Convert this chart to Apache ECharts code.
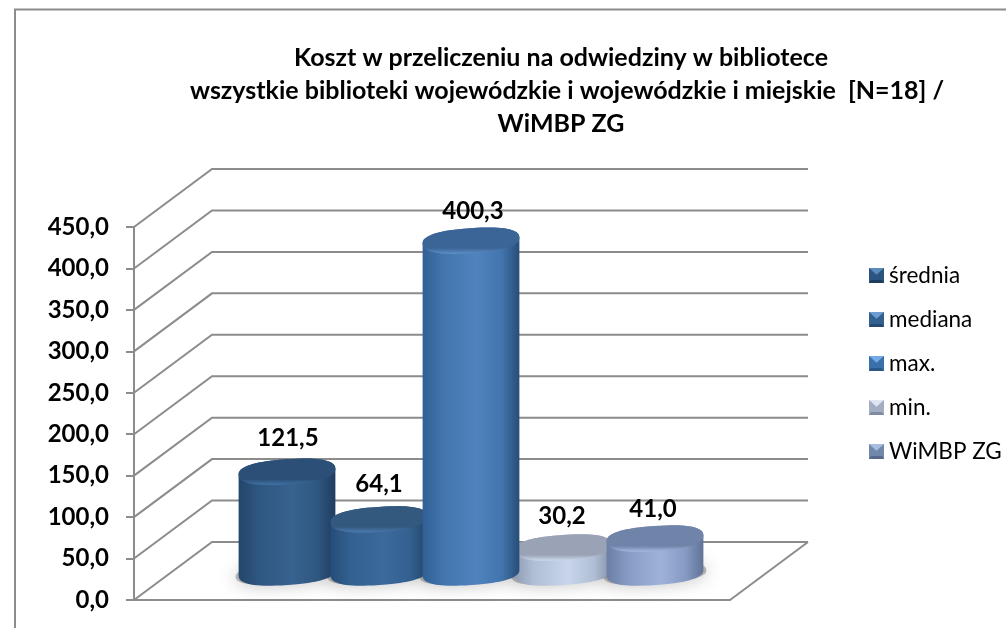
<!DOCTYPE html>
<html><head><meta charset="utf-8">
<style>html,body{margin:0;padding:0;background:#fff}#c{width:1006px;height:628px}</style>
<script src="https://cdn.jsdelivr.net/npm/echarts@6/dist/echarts.min.js"></script>
</head><body><div id="c"></div>
<script>
const seriesNames = ['średnia', 'mediana', 'max.', 'min.', 'WiMBP ZG'];
const seriesValues = [121.5, 64.1, 400.3, 30.2, 41.0];
const categories = [''];
const axisTicks = [0, 50, 100, 150, 200, 250, 300, 350, 400, 450];

const titleLines = ['Koszt w przeliczeniu na odwiedziny w bibliotece',
  '  wszystkie biblioteki wojewódzkie i wojewódzkie i miejskie  [N=18] /',
  'WiMBP ZG'];

// Styles: [edge-left, mid, centre, edge-right, top face, top rim]
const palette = [
  ['#234669', '#2f5680', '#38628f', '#1f3d60', '#2c4f78', '#4272a6'],
  ['#274d79', '#32608f', '#3d6a9c', '#234569', '#34597f', '#4c7cb2'],
  ['#2f5f94', '#4274ad', '#5082bd', '#284d78', '#3b6597', '#5f90c8'],
  ['#8e9cb4', '#b0bed6', '#c8d5ea', '#8390a8', '#9aa3b5', '#cbd8ec'],
  ['#6a7ea2', '#8599c2', '#9fb3da', '#5f7296', '#6f84a8', '#a6b9df']
];
const legendFace = ['#2b5480', '#33618f', '#3a70aa', '#a3aec2', '#7188ad'];
const legendLight = ['#5b8bbb', '#6b9dd0', '#74aae6', '#dfe6f2', '#a8bde0'];
const legendDark = ['#1e3c5e', '#244a73', '#2a5688', '#7f8ba0', '#56698c'];
const drawOrder = [2, 3, 6, 4, 5];
const labelLift = [34, 35, 29, 31, 29];
const labelShift = [1, 0, 2, -1, -2];

const DEPTH_X = 78, DEPTH_Y = -58;      // 3D depth of the floor
const MID = 0.5;                        // cylinders stand half way back
const BAR_SHARE = 92 / 596;             // slot of a cylinder in the band
const RX_SHARE = 48.5 / 92;
const RY = 12.5, TILT = 4 * Math.PI / 180, ROUND = 0.82;
const FONT = 'Lato, Carlito, sans-serif';

function ellipsePt(cx, cy, rx, ry, t) {
  const ct = Math.cos(t), st = Math.sin(t);
  const x = rx * Math.sign(ct) * Math.pow(Math.abs(ct), ROUND);
  const y = ry * Math.sign(st) * Math.pow(Math.abs(st), ROUND);
  return [cx + x * Math.cos(TILT) + y * Math.sin(TILT), cy - x * Math.sin(TILT) + y * Math.cos(TILT)];
}
function ellipsePoly(cx, cy, rx, ry) {
  const p = [];
  for (let i = 0; i < 72; i++) p.push(ellipsePt(cx, cy, rx, ry, i / 72 * Math.PI * 2));
  return p;
}
function barCentre(api, idx) {
  const base0 = api.coord([0, 0]);
  const slot = api.size([1, 0])[0] * BAR_SHARE;
  return {
    cx: base0[0] + (idx - (seriesValues.length - 1) / 2) * slot + DEPTH_X * MID,
    by: base0[1] + DEPTH_Y * MID + 1.5,
    rx: slot * RX_SHARE, slot
  };
}

function cylinderRender(idx) {
  return function (params, api) {
    const v = api.value(1);
    const g = barCentre(api, idx);
    const ty = api.coord([0, v])[1] + DEPTH_Y * MID + 1.5;
    const c = palette[idx];
    const body = [];
    for (let i = 0; i <= 36; i++) body.push(ellipsePt(g.cx, g.by, g.rx, RY, i / 36 * Math.PI));
    for (let i = 0; i <= 36; i++) body.push(ellipsePt(g.cx, ty, g.rx, RY, Math.PI + i / 36 * Math.PI));
    const grad = new echarts.graphic.LinearGradient(0, 0, 1, 0, [
      { offset: 0, color: c[0] }, { offset: 0.2, color: c[1] }, { offset: 0.55, color: c[2] },
      { offset: 0.82, color: c[1] }, { offset: 1, color: c[3] }]);
    const topGrad = new echarts.graphic.LinearGradient(0, 0, 0, 1, [
      { offset: 0, color: c[4] }, { offset: 0.78, color: c[4] }, { offset: 1, color: c[5] }]);
    return {
      type: 'group',
      children: [
        { type: 'polygon', z2: 2, shape: { points: body }, style: { fill: grad } },
        { type: 'polygon', z2: 3, shape: { points: ellipsePoly(g.cx, ty, g.rx, RY) }, style: { fill: topGrad } },
        { type: 'text', z2: 4, style: {
            x: g.cx + labelShift[idx], y: ty - labelLift[idx], align: 'center', verticalAlign: 'middle',
            text: v.toFixed(1).replace('.', ','), fill: '#000', font: 'bold 24px ' + FONT } }
      ]
    };
  };
}

function shadowRender(params, api) {
  const g = barCentre(api, params.dataIndex);
  return { type: 'polygon', shape: { points: ellipsePoly(g.cx, g.by + 1, g.rx + 3, RY - 2) },
    style: { fill: 'rgba(90,90,90,0.4)', shadowBlur: 18, shadowColor: 'rgba(0,0,0,0.65)' } };
}

function wallRender(params, api) {
  const v = api.value(0);
  const a = api.coord([0, v]);
  const band = api.size([1, 0])[0];
  const startX = a[0] - band / 2;
  const bx = startX + DEPTH_X, by = a[1] + DEPTH_Y;
  const endX = startX + band + DEPTH_X;
  const st = { stroke: '#8c8c8c', lineWidth: 2, fill: null };
  const kids = [
    { type: 'polyline', shape: { points: [[startX, a[1]], [bx, by], [endX, by]] }, style: st }
  ];
  if (v === 0) {
    kids.push({ type: 'polyline', shape: { points: [[endX - DEPTH_X, a[1]], [endX, by]] }, style: st });
  }
  return { type: 'group', children: kids };
}

const series = [{
  type: 'custom', name: '__walls', silent: true, z: 1, coordinateSystem: 'cartesian2d',
  encode: { y: 0 }, data: axisTicks.map(t => [t]), renderItem: wallRender, clip: false
}, {
  type: 'custom', name: '__shadows', silent: true, z: 1.5, clip: false,
  encode: { x: 0, y: 1 }, data: seriesValues.map(() => [0, 0]), renderItem: shadowRender
}];
seriesNames.forEach((n, i) => {
  series.push({
    type: 'custom', name: n, z: drawOrder[i], clip: false,
    itemStyle: { color: legendFace[i] },
    encode: { x: 0, y: 1 },
    data: [[0, seriesValues[i]]],
    renderItem: cylinderRender(i)
  });
});

// Bevel of the legend keys, laid over ECharts' own legend symbols.
const LEG_X = 869, LEG_Y = 268, LEG_S = 15, LEG_STEP = 44;
const bevels = [];
seriesNames.forEach((n, i) => {
  const x = LEG_X, y = LEG_Y + i * LEG_STEP, s = LEG_S;
  bevels.push({ type: 'polygon', silent: true, z: 100,
    shape: { points: [[x, y], [x + s, y], [x + s / 2, y + s * 0.45]] }, style: { fill: legendLight[i] } });
  bevels.push({ type: 'polygon', silent: true, z: 100,
    shape: { points: [[x, y + s], [x + s, y + s], [x + s - 2, y + s - 3], [x + 2, y + s - 3]] }, style: { fill: legendDark[i] } });
});

const chart = echarts.init(document.getElementById('c'), null, { renderer: 'canvas' });
chart.setOption({
  animation: false,
  backgroundColor: '#fff',
  grid: { left: 134, right: 276, top: 227, bottom: 28 },
  title: {
    text: titleLines.join('\n'), left: 561, top: 41, padding: 0, textAlign: 'center',
    textStyle: { fontFamily: FONT, fontSize: 25, fontWeight: 'bold', color: '#000', lineHeight: 33 }
  },
  legend: {
    data: seriesNames, orient: 'vertical', left: LEG_X, top: 264, padding: 0, itemWidth: LEG_S, itemHeight: LEG_S, itemGap: 21,
    icon: 'rect', selectedMode: false,
    textStyle: { fontFamily: FONT, fontSize: 22.5, color: '#000', lineHeight: 23 }
  },
  xAxis: { type: 'category', data: categories,
    axisLine: { lineStyle: { color: '#8c8c8c', width: 2 } }, axisTick: { show: false }, axisLabel: { show: false } },
  yAxis: { type: 'value', min: 0, max: 450, interval: 50,
    axisLine: { show: true, lineStyle: { color: '#8c8c8c', width: 2 } },
    axisTick: { show: true, length: 8, lineStyle: { color: '#8c8c8c', width: 2 } },
    splitLine: { show: false },
    axisLabel: { margin: 25, color: '#000', fontFamily: FONT, fontSize: 24, fontWeight: 'bold',
      formatter: v => v.toFixed(1).replace('.', ',') } },
  graphic: [
    { type: 'polyline', silent: true, z: -1, shape: { points: [[15, 628], [15, 9.5], [1006, 9.5]] },
      style: { stroke: '#8c8c8c', lineWidth: 2, fill: null } }
  ].concat(bevels),
  series
});
</script></body></html>
